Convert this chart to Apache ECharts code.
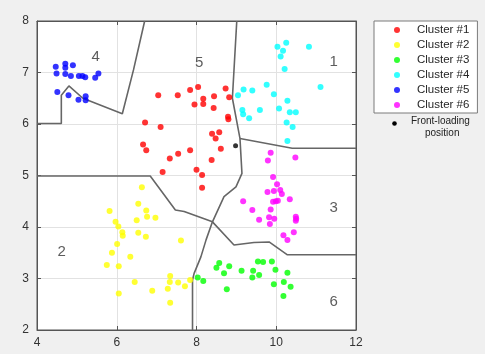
<!DOCTYPE html>
<html>
<head>
<meta charset="utf-8">
<script src="https://cdn.jsdelivr.net/npm/echarts@6/dist/echarts.min.js"></script>
<style>html,body{margin:0;padding:0;background:#f0f0f0;}#c{width:485px;height:354px;}</style>
</head>
<body>
<div id="c"></div>
<script>
// ---- data (x, y) ----
var clusterNames = ['Cluster #1','Cluster #2','Cluster #3','Cluster #4','Cluster #5','Cluster #6'];
var clusterColors = ['#ff0000','#ffff00','#00ff00','#00ffff','#0000ff','#ff00ff'];

var cluster1 = [[7.04,6.56],[7.53,6.56],[7.84,6.66],[8.04,6.72],[8.17,6.49],[7.95,6.38],[8.17,6.39],[8.44,6.54],[8.43,6.31],[8.73,6.69],[8.82,6.52],[8.79,6.14],[8.80,6.09],[6.71,6.03],[7.10,5.94],[8.39,5.81],[8.57,5.84],[8.48,5.72],[6.66,5.60],[6.74,5.49],[7.84,5.49],[7.54,5.42],[7.33,5.33],[8.61,5.52],[8.38,5.30],[8.00,5.11],[7.15,5.07],[8.14,5.01],[8.14,4.76]];
var cluster2 = [[6.63,4.77],[6.54,4.45],[6.74,4.32],[6.76,4.20],[6.97,4.18],[6.50,4.13],[5.82,4.31],[5.97,4.10],[6.04,4.01],[6.14,3.90],[6.15,3.83],[6.54,3.89],[6.73,3.81],[6.01,3.67],[5.88,3.50],[6.34,3.42],[7.61,3.74],[5.75,3.26],[6.05,3.24],[7.34,3.05],[7.33,2.93],[7.54,2.92],[6.45,2.93],[7.71,2.85],[7.84,2.97],[7.28,2.80],[6.89,2.76],[6.05,2.71],[7.34,2.53]];
var cluster3 = [[8.03,3.02],[8.17,2.95],[8.50,3.21],[8.57,3.30],[8.82,3.24],[8.69,3.10],[8.76,2.79],[9.13,3.15],[9.42,3.15],[9.40,3.02],[9.57,3.07],[9.54,3.33],[9.67,3.32],[9.89,3.33],[9.98,3.17],[10.28,3.11],[9.94,2.89],[10.19,2.93],[10.36,2.84],[10.18,2.66]];
var cluster4 = [[10.03,7.50],[10.25,7.58],[10.17,7.42],[10.11,7.31],[10.82,7.50],[10.21,7.07],[11.11,6.72],[9.76,6.76],[9.18,6.67],[9.40,6.65],[9.04,6.56],[9.94,6.58],[9.15,6.27],[9.17,6.19],[9.32,6.11],[9.59,6.27],[10.07,6.30],[10.28,6.45],[10.34,6.23],[10.49,6.23],[10.26,6.03],[10.41,5.94],[10.28,5.67]];
var cluster5 = [[4.47,7.11],[4.71,7.17],[4.71,7.09],[4.90,7.14],[4.49,6.98],[4.71,6.97],[4.85,6.93],[5.05,6.93],[5.14,6.93],[5.21,6.91],[5.46,6.90],[5.54,6.98],[4.51,6.62],[4.79,6.56],[5.04,6.47],[5.22,6.54],[5.22,6.46]];
var cluster6 = [[9.86,5.44],[9.79,5.29],[10.48,5.35],[9.92,4.97],[10.02,4.83],[10.10,4.72],[9.78,4.68],[9.94,4.70],[10.14,4.64],[10.34,4.54],[9.99,4.50],[9.92,4.49],[10.04,4.51],[9.17,4.50],[9.40,4.33],[9.86,4.34],[9.82,4.19],[9.95,4.16],[9.57,4.14],[9.84,4.06],[10.49,4.20],[10.50,4.16],[10.49,4.12],[10.44,3.90],[10.18,3.84],[10.28,3.75]];
var frontLoading = [[8.98,5.58]];

// Voronoi boundary polylines
var boundaryA = [[4,6.01],[4.61,6.01],[4.61,6.56],[4.80,6.74],[5.15,6.50],[6.14,6.20],[6.42,7.05],[6.70,8]];
var boundaryB = [[9.01,8],[8.90,6.50],[9.09,5.72],[9.14,5.04],[8.99,4.78],[8.69,4.59],[8.40,4.10],[8.24,3.75],[8.11,3.42],[7.94,3.10],[7.90,2.97],[7.90,2]];
var boundaryC = [[4,4.99],[6.84,4.99],[7.47,4.33],[7.69,4.30],[8.40,4.10],[8.94,3.65],[9.44,3.70],[9.82,3.71],[10.28,3.46],[12,3.46]];
var boundaryD = [[9.09,5.72],[10.40,5.53],[12,5.53]];

var regionLabels = [['1',11.44,7.20],['2',4.62,3.51],['3',11.44,4.37],['4',5.47,7.30],['5',8.07,7.18],['6',11.44,2.55]];

var xTicks = {min:4, max:12, interval:2};
var yTicks = {min:2, max:8, interval:1};

// ---- chart ----
var chart = echarts.init(document.getElementById('c'), null, {renderer:'canvas'});
var font = 'Liberation Sans, Arial, sans-serif';
var clusters = [cluster1, cluster2, cluster3, cluster4, cluster5, cluster6];
var series = [];
[boundaryA, boundaryB, boundaryC, boundaryD].forEach(function(b){
  series.push({type:'line', data:b, symbol:'none', silent:true, z:2,
    lineStyle:{color:'#666666', width:1.6}});
});
clusters.forEach(function(c,i){
  series.push({type:'scatter', name:clusterNames[i], data:c, symbol:'circle', symbolSize:6, z:3,
    itemStyle:{color:clusterColors[i]}});
});
series.push({type:'scatter', name:'Front-loading position', data:frontLoading, symbol:'circle', symbolSize:5, z:3,
  itemStyle:{color:'#000'}});
series.push({type:'scatter', data:regionLabels.map(function(r){return {name:r[0], value:[r[1],r[2]]};}),
  symbolSize:1, itemStyle:{color:'rgba(0,0,0,0)'}, silent:true, z:4,
  label:{show:true, position:'inside', formatter:'{b}', fontSize:15, color:'#333', fontFamily:font}});

function axis(t, pos, labels){
  return {type:'value', min:t.min, max:t.max, interval:t.interval, position:pos,
    axisLine:{show:true, onZero:false, lineStyle:{color:'#555', width:1}},
    axisTick:{show:true, inside:true, length:4, lineStyle:{color:'#555'}},
    splitLine:{show:labels, lineStyle:{color:'#e2e2e2', width:1}},
    axisLabel:{show:labels, color:'#333', fontSize:12, fontFamily:font, margin:pos==='left'?8:7}};
}

chart.setOption({
  animation:false,
  backgroundColor:'#f0f0f0',
  grid:{left:37, top:21, width:319, height:309, show:true, backgroundColor:'#ffffff', borderColor:'#555', borderWidth:1},
  xAxis:[axis(xTicks,'bottom',true), axis(xTicks,'top',false)],
  yAxis:[axis(yTicks,'left',true), axis(yTicks,'right',false)],
  legend:[{
    data:clusterNames, orient:'vertical', left:374, top:21,
    padding:[2,8,1,20], itemGap:1, itemWidth:6, itemHeight:6, icon:'circle',
    borderColor:'#7a7a7a', borderWidth:1, backgroundColor:'#ffffff',
    selectedMode:false,
    textStyle:{fontSize:11.5, color:'#262626', fontFamily:font, lineHeight:14, padding:[0,0,0,12]}
  }],
  graphic:[
    {type:'circle', shape:{cx:394.5, cy:123.5, r:2.3}, style:{fill:'#000'}},
    {type:'text', left:411, top:116, style:{text:'Front-loading', fontSize:10, fill:'#222', fontFamily:font}},
    {type:'text', left:425, top:128, style:{text:'position', fontSize:10, fill:'#222', fontFamily:font}}
  ],
  series:series
});
</script>
</body>
</html>
